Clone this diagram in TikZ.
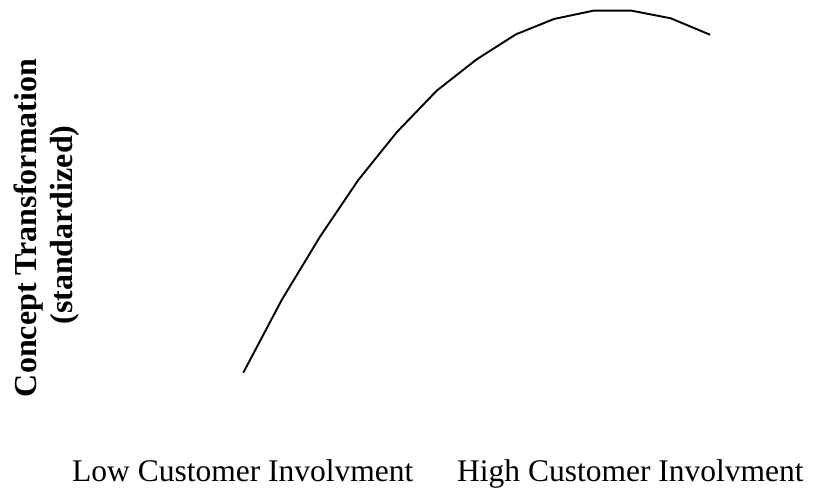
\documentclass[tikz,border=0pt]{standalone}
\usepackage{fontspec}
\setmainfont{Liberation Serif}
\tikzset{
  curveline/.style={line width=1.9pt, line join=round},
  xlabel/.style={font=\fontsize{31.5}{34}\selectfont, inner sep=0pt, anchor=base west},
  ylabel/.style={font=\fontsize{32}{36}\selectfont\bfseries, rotate=90, inner sep=0pt, anchor=base}
}
\begin{document}
\begin{tikzpicture}[x=1pt,y=1pt]
\useasboundingbox (0,0) rectangle (814,493);
\draw[curveline] (243.3,120.3) -- (281.7,193) -- (320,256.3) -- (358.3,313) -- (396.7,360.7) -- (436.7,402.3) -- (476.7,433.7) -- (516,458.7) -- (554,474) -- (593.3,482.3) -- (631.7,482.3) -- (670.7,474.7) -- (710,458.3);
\node[xlabel] (low) at (72,12) {Low Customer Involvment};
\node[xlabel] (high) at (457,12) {High Customer Involvment};
\node[ylabel] (yl1) at (36,265) {Concept Transformation};
\node[ylabel] (yl2) at (72,268) {(standardized)};
\end{tikzpicture}
\end{document}
